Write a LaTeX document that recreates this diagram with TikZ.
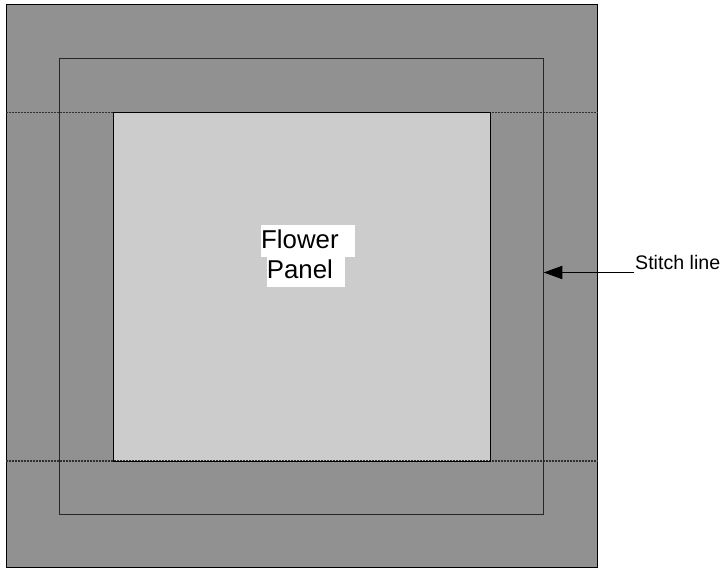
\documentclass[tikz,border=0pt]{standalone}
\usepackage{fontspec}
\setmainfont{Liberation Sans}
\usetikzlibrary{arrows.meta}
\definecolor{outergray}{HTML}{919191}
\definecolor{innergray}{HTML}{CCCCCC}
\definecolor{dotgray}{HTML}{303030}
\begin{document}
\begin{tikzpicture}[x=1pt,y=-1pt,
  boxnode/.style={anchor=north west,inner sep=0pt,outer sep=0pt},
  dotline/.style={draw=dotgray,line width=1.2pt,dash pattern=on 1.6pt off 1.4pt},
  panellabel/.style={fill=white,inner sep=0pt,anchor=base west,font=\fontsize{25.8}{30}\selectfont},
  stitchlabel/.style={inner sep=0pt,anchor=base west,font=\fontsize{19.6}{22}\selectfont}]
\useasboundingbox (0,0) rectangle (724,569);
% outer fabric
\node[boxnode,fill=outergray,draw=black,line width=1pt,minimum width=591.5pt,minimum height=563pt] (outer) at (6,4.5) {};
% inner panel
\node[boxnode,fill=innergray,minimum width=377pt,minimum height=349pt] (inner) at (113.3,112.2) {};
% dotted lines
\coordinate (d1l) at (6,112.2);
\coordinate (d1r) at (597.5,112.2);
\coordinate (d2l) at (6,461);
\coordinate (d2r) at (597.5,461);
\draw[dotline] (d1l) -- (d1r);
\draw[dotline] (d2l) -- (d2r);
% inner outline
\draw[black,line width=1pt] (inner.north west) rectangle (inner.south east);
% stitch line rectangle
\node[boxnode,draw=black!85,line width=1.3pt,minimum width=484.2pt,minimum height=455.8pt] (mid) at (59.5,58.5) {};
% labels
\node[panellabel,text height=23.3pt,text depth=8.4pt] (flower) at (261,248.3) {Flower\hspace*{16.6pt}};
\node[panellabel,text height=21.6pt,text depth=8.4pt] (panel) at (266.7,278.3) {Panel\hspace*{12.3pt}};
\node[stitchlabel] (stitch) at (635,269.3) {Stitch line};
\coordinate (arrstart) at (634.3,272.5);
\draw[black,line width=1pt,-{Triangle[length=18.7pt,width=13.3pt]}] (arrstart) -- (arrstart -| mid.east);
\end{tikzpicture}
\end{document}
